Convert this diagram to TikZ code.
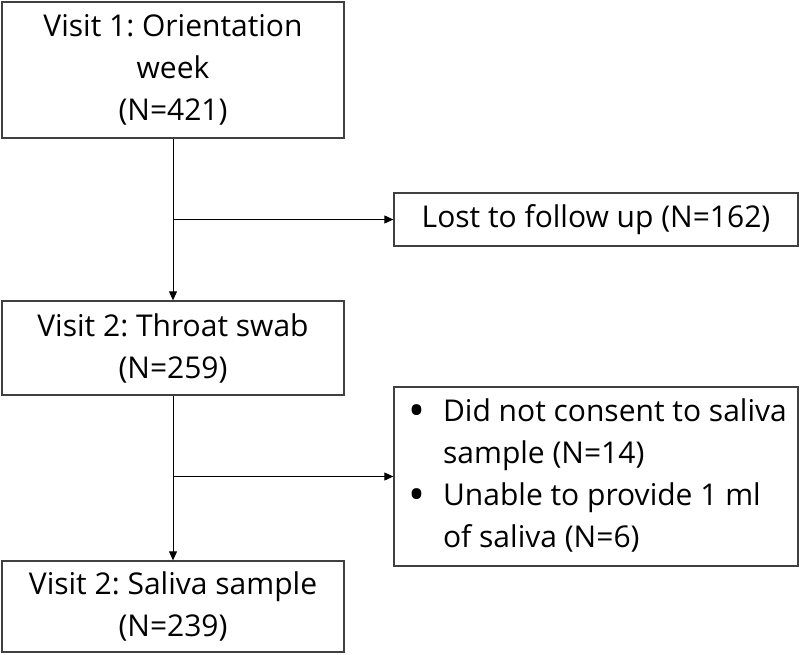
\documentclass[tikz,border=0pt]{standalone}
\usepackage{fontspec}
\setmainfont{Open Sans}
\usepackage{xcolor}
\definecolor{boxgray}{HTML}{404040}
\usepackage{tikz}
\usetikzlibrary{arrows.meta}
\frenchspacing

\newcommand{\bigbullet}{\raisebox{-4.5pt}{\scalebox{1.5}{\textbullet}}}

\tikzset{
    visitbox/.style={draw=boxgray, line width=1.3pt, minimum width=342pt, align=center, inner sep=0pt},
    sidebox/.style={draw=boxgray, line width=1.3pt, minimum width=404pt, inner sep=0pt},
    flow/.style={line width=0.9pt, -{Triangle[length=9pt,width=8pt]}}
}

\begin{document}
\begin{tikzpicture}[x=1pt, y=-1pt, font=\fontsize{30}{42}\selectfont]
            \useasboundingbox (0, 0) rectangle (800, 655);
            \node[visitbox, minimum height=136pt] (visit1) at (173, 70) {Visit 1: Orientation\\week\\(N=421)};
            \node[visitbox, minimum height=94pt] (visit2) at (173, 348) {Visit 2: Throat swab\\(N=259)};
            \node[visitbox, minimum height=91pt] (visit3) at (173, 606.5) {Visit 2: Saliva sample\\(N=239)};
            \node[sidebox, minimum height=53pt] (lost) at (596, 219.5) {Lost to follow up (N=162)};
            \node[sidebox, minimum height=179pt] (excl) at (596, 476.5) {%
                \begin{tabular}{@{\hspace{3pt}}l@{\hspace{18pt}}l@{}}
                    \bigbullet & Did not consent to saliva\\
                     & sample (N=14)\\
                    \bigbullet & Unable to provide 1 ml\\
                     & of saliva (N=6)
                \end{tabular}\hspace*{\fill}};
            % branch points on the main line
            \coordinate (split1) at (visit1.south |- lost.west);
            \coordinate (split2) at (visit2.south |- excl.west);
            \draw[flow] (visit1) -- (visit2);
            \draw[flow] (split1) -- (lost);
            \draw[flow] (visit2) -- (visit3);
            \draw[flow] (split2) -- (excl);
        \end{tikzpicture}
\end{document}
